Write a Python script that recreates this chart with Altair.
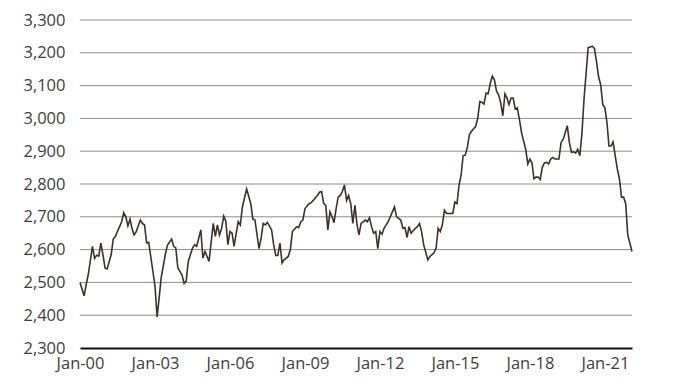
import altair as alt
import pandas as pd

# month index (0 = Jan 2000) and value
months = [0, 2, 3, 4, 6, 7, 8, 9, 10, 11, 12, 13, 15, 16, 17, 18, 20, 21, 22, 23,
          24, 25, 26, 27, 29, 30, 31, 32, 33, 35, 36, 37, 38, 39, 41, 42, 44, 45, 46, 47,
          49, 50, 51, 52, 54, 55, 56, 58, 59, 60, 62, 64, 65, 66, 67, 68, 69, 70, 71, 72,
          73, 74, 76, 77, 78, 80, 82, 83, 84, 86, 87, 88, 89, 90, 92, 93, 94, 95, 96, 97,
          98, 100, 101, 102, 104, 105, 106, 107, 108, 110, 111, 112, 114, 115, 116, 117, 118, 119, 120, 121,
          122, 123, 124, 125, 126, 127, 128, 129, 130, 131, 132, 133, 134, 135, 137, 138, 139, 140, 141, 142,
          143, 144, 145, 146, 148, 150, 151, 152, 154, 155, 156, 157, 158, 159, 161, 162, 163, 164, 165, 167,
          168, 170, 171, 172, 173, 174, 175, 176, 179, 180, 181, 182, 183, 184, 185, 186, 187, 188, 190, 191,
          192, 193, 194, 195, 196, 197, 198, 199, 200, 201, 202, 203, 204, 205, 206, 207, 208, 209, 210, 211,
          212, 214, 215, 216, 217, 218, 219, 220, 221, 222, 223, 224, 225, 226, 227, 228, 230, 231, 232, 233,
          234, 235, 236, 237, 238, 239, 240, 241, 242, 243, 244, 245, 246, 247, 248, 249, 250, 251, 252, 253,
          254, 255, 256, 257, 258, 259, 260, 261, 262, 263, 264, 265]
values = [2500, 2459, 2494, 2524, 2610, 2573, 2583, 2580, 2620, 2585, 2544, 2541, 2585, 2632, 2640, 2655, 2685, 2712, 2700, 2672,
          2693, 2663, 2645, 2655, 2690, 2680, 2675, 2620, 2622, 2534, 2489, 2395, 2449, 2514, 2585, 2613, 2632, 2610, 2605, 2544,
          2522, 2497, 2504, 2564, 2604, 2615, 2610, 2660, 2574, 2594, 2564, 2680, 2640, 2675, 2645, 2665, 2702, 2687, 2615, 2655,
          2650, 2610, 2685, 2675, 2730, 2785, 2740, 2693, 2690, 2603, 2635, 2680, 2675, 2683, 2660, 2615, 2582, 2582, 2620, 2559,
          2569, 2579, 2600, 2655, 2670, 2667, 2685, 2690, 2725, 2740, 2743, 2750, 2765, 2775, 2777, 2740, 2735, 2660, 2715, 2700,
          2682, 2725, 2760, 2765, 2777, 2797, 2750, 2765, 2740, 2680, 2735, 2675, 2645, 2680, 2690, 2685, 2697, 2670, 2650, 2655,
          2603, 2655, 2647, 2665, 2685, 2715, 2730, 2700, 2690, 2665, 2667, 2637, 2670, 2650, 2665, 2670, 2680, 2655, 2615, 2569,
          2579, 2590, 2605, 2665, 2655, 2675, 2720, 2710, 2710, 2745, 2740, 2795, 2826, 2886, 2888, 2911, 2951, 2961, 2976, 3001,
          3052, 3049, 3044, 3077, 3075, 3107, 3129, 3117, 3082, 3072, 3047, 3008, 3075, 3062, 3042, 3062, 3062, 3029, 3032, 2996,
          2956, 2906, 2861, 2876, 2864, 2816, 2821, 2821, 2814, 2851, 2864, 2866, 2861, 2876, 2881, 2876, 2876, 2926, 2936, 2956,
          2978, 2926, 2896, 2898, 2894, 2906, 2886, 2956, 3057, 3137, 3216, 3218, 3220, 3213, 3172, 3127, 3102, 3042, 3032, 2986,
          2916, 2916, 2928, 2886, 2846, 2816, 2760, 2760, 2740, 2645, 2620, 2594]

tick_dates = ["2000-01-01", "2003-01-01", "2006-01-01", "2009-01-01",
              "2012-01-01", "2015-01-01", "2018-01-01", "2021-01-01"]
y_ticks = [2300, 2400, 2500, 2600, 2700, 2800, 2900, 3000, 3100, 3200, 3300]

dates = [f"{2000 + m // 12:04d}-{m % 12 + 1:02d}-01" for m in months]
df = pd.DataFrame({"date": pd.to_datetime(dates), "value": values})

tick_vals = [alt.DateTime(year=int(d[:4]), month=1, date=1) for d in tick_dates]

yscale = alt.Scale(domain=[2300, 3300], nice=False, zero=False)
yaxis = alt.Axis(values=y_ticks, format=",.0f", title=None, grid=False,
                 ticks=False, domain=False, labelFontSize=16.5, labelOverlap=False,
                 labelColor="#3d3d3d", labelPadding=15, labelFont="Open Sans")

grid = alt.Chart(pd.DataFrame({"g": y_ticks[1:]})).mark_rule(
    color="#8c8c8c", strokeWidth=1
).encode(y=alt.Y("g:Q", scale=yscale, axis=yaxis, title=None))

line = alt.Chart(df).mark_line(color="#3b322d", strokeWidth=1.6).encode(
    x=alt.X("date:T",
            scale=alt.Scale(domain=[alt.DateTime(year=2000, month=1, date=1),
                                    alt.DateTime(year=2022, month=2, date=1)]),
            axis=alt.Axis(values=tick_vals, format="%b-%y", title=None, grid=False,
                          ticks=False, domain=True, domainColor="#111111", domainWidth=2,
                          labelFontSize=16.5, labelColor="#3d3d3d", labelPadding=7,
                          labelFont="Open Sans", labelFlush=False)),
    y=alt.Y("value:Q", scale=yscale, axis=yaxis, title=None),
)

chart = alt.layer(grid, line).properties(
    width=552, height=328,
    autosize=alt.AutoSizeParams(type="none"),
    padding={"left": 72, "top": 12, "right": 40, "bottom": 40},
).configure_view(stroke=None)

chart.save("out.html", embed_options={"renderer": "svg", "actions": False})
